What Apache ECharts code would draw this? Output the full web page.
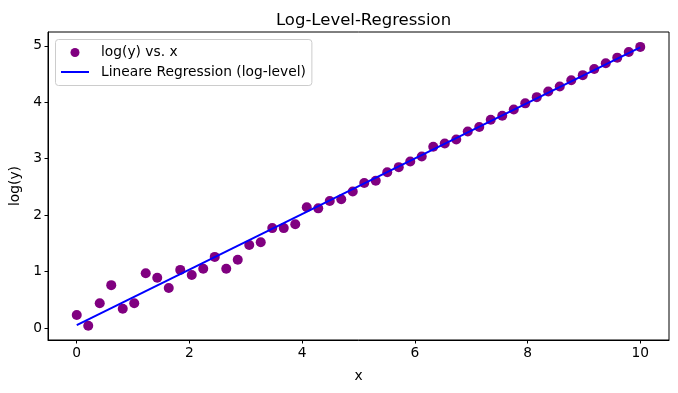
<!DOCTYPE html>
<html>
<head>
<meta charset="utf-8">
<script src="https://cdn.jsdelivr.net/npm/echarts@6/dist/echarts.min.js"></script>
<style>html,body{margin:0;padding:0;background:#fff}#c{width:678px;height:393px}</style>
</head>
<body>
<div id="c"></div>
<script>
const xValues = [0,0.2041,0.4082,0.6122,0.8163,1.0204,1.2245,1.4286,1.6327,1.8367,2.0408,2.2449,2.449,2.6531,2.8571,3.0612,3.2653,3.4694,3.6735,3.8776,4.0816,4.2857,4.4898,4.6939,4.898,5.102,5.3061,5.5102,5.7143,5.9184,6.1224,6.3265,6.5306,6.7347,6.9388,7.1429,7.3469,7.551,7.7551,7.9592,8.1633,8.3673,8.5714,8.7755,8.9796,9.1837,9.3878,9.5918,9.7959,10];
const logY = [0.23,0.04,0.44,0.76,0.34,0.44,0.97,0.89,0.71,1.03,0.94,1.05,1.26,1.05,1.21,1.47,1.52,1.77,1.77,1.84,2.14,2.12,2.25,2.28,2.42,2.57,2.61,2.76,2.85,2.95,3.04,3.21,3.27,3.34,3.48,3.56,3.69,3.76,3.87,3.98,4.09,4.19,4.28,4.39,4.48,4.59,4.69,4.79,4.89,4.98];
const lineX = [0, 10];
const lineY = [0.05, 4.97];
const xTicks = [0, 2, 4, 6, 8, 10];
const yTicks = [0, 1, 2, 3, 4, 5];
const scatterName = 'log(y) vs. x';
const lineName = 'Lineare Regression (log-level)';

const FONT = 'DejaVu Sans';
const chart = echarts.init(document.getElementById('c'), null, {renderer: 'canvas'});
chart.setOption({
  animation: false,
  backgroundColor: '#fff',
  title: {
    text: 'Log-Level-Regression',
    left: 358.5, top: 7, textAlign: 'center',
    textStyle: {fontFamily: FONT, fontSize: 16.5, fontWeight: 'normal', color: '#000'}
  },
  legend: {
    orient: 'vertical',
    left: 55.5, top: 39.5,
    padding: [5, 6, 5.5, 4.5],
    itemWidth: 28, itemHeight: 9, itemGap: 3.5,
    backgroundColor: 'rgba(255,255,255,0.8)',
    borderColor: '#cccccc', borderWidth: 1, borderRadius: 3,
    textStyle: {fontFamily: FONT, fontSize: 13.8, color: '#000', lineHeight: 16, padding: [0,0,0,7]},
    data: [
      {name: scatterName, icon: 'circle'},
      {name: lineName, itemStyle: {color: 'rgba(0,0,0,0)', borderWidth: 0, opacity: 0}, lineStyle: {color: '#0000ff', width: 2}}
    ]
  },
  grid: {left: 48, right: 9, top: 32, bottom: 53, show: true, borderColor: '#000', borderWidth: 1, outerBoundsMode: 'none', containLabel: false},
  xAxis: {
    type: 'value', min: -0.51, max: 10.51,
    name: 'x', nameLocation: 'middle', nameGap: 29,
    nameTextStyle: {fontFamily: FONT, fontSize: 13.8, color: '#000'},
    axisLine: {show: true, onZero: false, lineStyle: {color: '#000', width: 1}},
    axisTick: {show: true, inside: false, length: 3.5, customValues: xTicks, lineStyle: {color: '#000'}},
    axisLabel: {customValues: xTicks, fontFamily: FONT, fontSize: 13.8, color: '#000', margin: 6},
    splitLine: {show: false}
  },
  yAxis: {
    type: 'value', min: -0.212, max: 5.244,
    name: 'log(y)', nameLocation: 'middle', nameGap: 24, nameRotate: 90,
    nameTextStyle: {fontFamily: FONT, fontSize: 13.8, color: '#000'},
    axisLine: {show: true, onZero: false, lineStyle: {color: '#000', width: 1}},
    axisTick: {show: true, inside: false, length: 3.5, customValues: yTicks, lineStyle: {color: '#000'}},
    axisLabel: {customValues: yTicks, fontFamily: FONT, fontSize: 13.8, color: '#000', margin: 6},
    splitLine: {show: false}
  },
  series: [
    {
      name: scatterName, type: 'scatter', symbol: 'circle', symbolSize: 10,
      itemStyle: {color: '#800080', opacity: 1},
      data: xValues.map((x, i) => [x, logY[i]]), z: 2
    },
    {
      name: lineName, type: 'line', symbol: 'none', showSymbol: false,
      lineStyle: {color: '#0000ff', width: 2},
      itemStyle: {color: '#0000ff'},
      data: lineX.map((x, i) => [x, lineY[i]]), z: 3
    }
  ]
});
</script>
</body>
</html>
